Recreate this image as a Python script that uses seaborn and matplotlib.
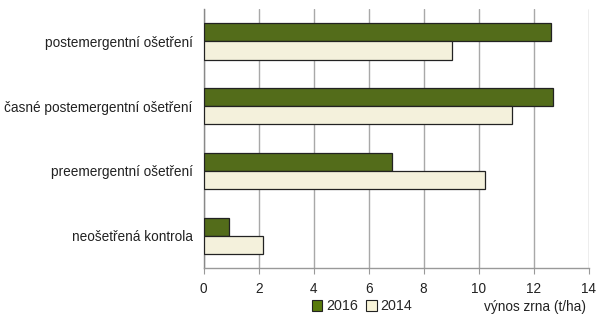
import matplotlib
matplotlib.use("Agg")
import matplotlib.pyplot as plt
import seaborn as sns
import pandas as pd
from matplotlib.patches import Patch

categories = ["postemergentní ošetření", "časné postemergentní ošetření",
              "preemergentní ošetření", "neošetřená kontrola"]
years = ["2016", "2014"]
values_2016 = [12.63, 12.71, 6.84, 0.93]
values_2014 = [9.04, 11.2, 10.24, 2.17]
x_ticks = [0, 2, 4, 6, 8, 10, 12, 14]
x_label = "výnos zrna (t/ha)"

colors = {"2016": "#587a0c", "2014": "#f8f4d8"}

df = pd.DataFrame({
    "kategorie": categories * 2,
    "rok": ["2016"] * 4 + ["2014"] * 4,
    "hodnota": values_2016 + values_2014,
})

sns.set_style("white")
plt.rcParams["font.family"] = ["Liberation Sans", "DejaVu Sans"]

fig = plt.figure(figsize=(6, 3.23), dpi=100)
ax = fig.add_axes([0.3395, 0.170, 0.6415, 0.802])

sns.barplot(data=df, y="kategorie", x="hodnota", hue="rok", order=categories,
            hue_order=years, palette=colors, orient="h", width=0.56,
            edgecolor="#222222", linewidth=0.9, ax=ax, legend=False, zorder=3)

ax.set_xlim(0, 14)
ax.set_ylim(3.5, -0.5)
ax.set_xticks(x_ticks)
ax.set_xticklabels([str(t) for t in x_ticks], fontsize=9.8, color="#222222")
ax.tick_params(axis="y", labelsize=9.8, labelcolor="#222222", length=0, pad=8)
ax.tick_params(axis="x", length=4, width=0.8, color="#999999", pad=6, direction="out", bottom=True)
ax.set_xlabel("")
ax.set_ylabel("")

ax.grid(axis="x", color="#a8a8a8", linewidth=1.0, zorder=0)
ax.grid(axis="y", visible=False)
for s in ["top", "right"]:
    ax.spines[s].set_visible(False)
ax.spines["bottom"].set_color("#999999")
ax.spines["bottom"].set_linewidth(1.0)
ax.spines["left"].set_color("#888888")
ax.spines["left"].set_linewidth(1.0)
ax.set_axisbelow(True)

fig.text(586 / 600, 1 - 306.5 / 323, x_label, ha="right", va="center",
         fontsize=9.8, color="#222222")

handles = [Patch(facecolor=colors[y], edgecolor="#222222", linewidth=0.8, label=y) for y in years]
fig.legend(handles=handles, loc="center", bbox_to_anchor=(362 / 600, 1 - 306.5 / 323),
           ncol=2, frameon=False, fontsize=10.3, handlelength=0.75, handleheight=0.75,
           handletextpad=0.25, columnspacing=0.6, borderpad=0)

fig.savefig("out.png", dpi=100)
